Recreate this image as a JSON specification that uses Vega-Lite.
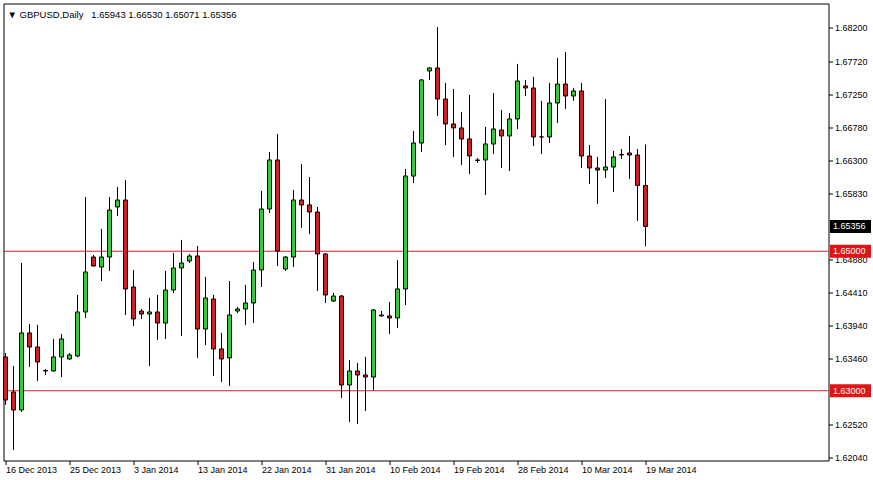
{
  "$schema": "https://vega.github.io/schema/vega-lite/v6.json",
  "width": 825,
  "height": 457,
  "autosize": {"type": "none"},
  "padding": {"left": 3.5, "top": 3.5, "right": 44.5, "bottom": 19.5},
  "background": "white",
  "title": {
    "text": "▼\u00a0GBPUSD,Daily\u00a0\u00a0\u00a01.65943 1.66530 1.65071 1.65356",
    "anchor": "start",
    "frame": "group",
    "offset": -13,
    "baseline": "alphabetic",
    "dx": 4,
    "dy": 11,
    "font": "Liberation Sans",
    "fontSize": 9.5,
    "fontWeight": "normal",
    "color": "black"
  },
  "datasets": {
    "candles": [
      {"i": 0, "o": 1.63484, "h": 1.63541, "l": 1.62796, "c": 1.62867},
      {"i": 1, "o": 1.62982, "h": 1.63355, "l": 1.62151, "c": 1.62724},
      {"i": 2, "o": 1.62724, "h": 1.64831, "l": 1.62695, "c": 1.63828},
      {"i": 3, "o": 1.63828, "h": 1.63957, "l": 1.63341, "c": 1.63627},
      {"i": 4, "o": 1.63627, "h": 1.63943, "l": 1.63140, "c": 1.63412},
      {"i": 5, "o": 1.63283, "h": 1.63312, "l": 1.63226, "c": 1.63290},
      {"i": 6, "o": 1.63283, "h": 1.63742, "l": 1.63276, "c": 1.63484},
      {"i": 7, "o": 1.63484, "h": 1.63814, "l": 1.63197, "c": 1.63742},
      {"i": 8, "o": 1.63455, "h": 1.63541, "l": 1.63441, "c": 1.63513},
      {"i": 9, "o": 1.63498, "h": 1.64373, "l": 1.63480, "c": 1.64129},
      {"i": 10, "o": 1.64129, "h": 1.65777, "l": 1.64043, "c": 1.64702},
      {"i": 11, "o": 1.64917, "h": 1.64946, "l": 1.64781, "c": 1.64788},
      {"i": 12, "o": 1.64774, "h": 1.65319, "l": 1.64573, "c": 1.64917},
      {"i": 13, "o": 1.64917, "h": 1.65777, "l": 1.64717, "c": 1.65591},
      {"i": 14, "o": 1.65634, "h": 1.65921, "l": 1.65505, "c": 1.65734},
      {"i": 15, "o": 1.65734, "h": 1.66021, "l": 1.64086, "c": 1.64459},
      {"i": 16, "o": 1.64487, "h": 1.64731, "l": 1.63928, "c": 1.64029},
      {"i": 17, "o": 1.64143, "h": 1.64172, "l": 1.64029, "c": 1.64100},
      {"i": 18, "o": 1.64100, "h": 1.64330, "l": 1.63355, "c": 1.64129},
      {"i": 19, "o": 1.64129, "h": 1.64373, "l": 1.63728, "c": 1.63971},
      {"i": 20, "o": 1.63971, "h": 1.64717, "l": 1.63742, "c": 1.64444},
      {"i": 21, "o": 1.64444, "h": 1.64975, "l": 1.64401, "c": 1.64760},
      {"i": 22, "o": 1.64760, "h": 1.65161, "l": 1.63785, "c": 1.64831},
      {"i": 23, "o": 1.64860, "h": 1.64960, "l": 1.64831, "c": 1.64932},
      {"i": 24, "o": 1.64932, "h": 1.65075, "l": 1.63470, "c": 1.63885},
      {"i": 25, "o": 1.63885, "h": 1.64631, "l": 1.63656, "c": 1.64330},
      {"i": 26, "o": 1.64315, "h": 1.64373, "l": 1.63212, "c": 1.63599},
      {"i": 27, "o": 1.63599, "h": 1.63828, "l": 1.63125, "c": 1.63455},
      {"i": 28, "o": 1.63470, "h": 1.64573, "l": 1.63068, "c": 1.64086},
      {"i": 29, "o": 1.64143, "h": 1.64201, "l": 1.64115, "c": 1.64172},
      {"i": 30, "o": 1.64172, "h": 1.64516, "l": 1.63943, "c": 1.64258},
      {"i": 31, "o": 1.64258, "h": 1.64846, "l": 1.63971, "c": 1.64731},
      {"i": 32, "o": 1.64731, "h": 1.65863, "l": 1.64487, "c": 1.65605},
      {"i": 33, "o": 1.65605, "h": 1.66422, "l": 1.65548, "c": 1.66308},
      {"i": 34, "o": 1.66308, "h": 1.66681, "l": 1.64788, "c": 1.65003},
      {"i": 35, "o": 1.64745, "h": 1.64932, "l": 1.64717, "c": 1.64917},
      {"i": 36, "o": 1.64917, "h": 1.65878, "l": 1.64774, "c": 1.65734},
      {"i": 37, "o": 1.65734, "h": 1.66250, "l": 1.65333, "c": 1.65663},
      {"i": 38, "o": 1.65663, "h": 1.66064, "l": 1.65247, "c": 1.65562},
      {"i": 39, "o": 1.65562, "h": 1.65634, "l": 1.64430, "c": 1.64960},
      {"i": 40, "o": 1.64960, "h": 1.64975, "l": 1.64258, "c": 1.64373},
      {"i": 41, "o": 1.64287, "h": 1.64401, "l": 1.64272, "c": 1.64358},
      {"i": 42, "o": 1.64358, "h": 1.64373, "l": 1.62896, "c": 1.63082},
      {"i": 43, "o": 1.63082, "h": 1.63441, "l": 1.62552, "c": 1.63283},
      {"i": 44, "o": 1.63283, "h": 1.63398, "l": 1.62523, "c": 1.63226},
      {"i": 45, "o": 1.63226, "h": 1.63484, "l": 1.62710, "c": 1.63197},
      {"i": 46, "o": 1.63197, "h": 1.64172, "l": 1.63011, "c": 1.64158},
      {"i": 47, "o": 1.64086, "h": 1.64143, "l": 1.64064, "c": 1.64072},
      {"i": 48, "o": 1.64072, "h": 1.64272, "l": 1.63814, "c": 1.64043},
      {"i": 49, "o": 1.64043, "h": 1.64874, "l": 1.63900, "c": 1.64459},
      {"i": 50, "o": 1.64459, "h": 1.66179, "l": 1.64229, "c": 1.66078},
      {"i": 51, "o": 1.66078, "h": 1.66724, "l": 1.65978, "c": 1.66551},
      {"i": 52, "o": 1.66551, "h": 1.67469, "l": 1.66422, "c": 1.67455},
      {"i": 53, "o": 1.67584, "h": 1.67634, "l": 1.67455, "c": 1.67627},
      {"i": 54, "o": 1.67627, "h": 1.68214, "l": 1.66939, "c": 1.67182},
      {"i": 55, "o": 1.67182, "h": 1.67412, "l": 1.66523, "c": 1.66824},
      {"i": 56, "o": 1.66824, "h": 1.67326, "l": 1.66351, "c": 1.66767},
      {"i": 57, "o": 1.66767, "h": 1.66996, "l": 1.66236, "c": 1.66609},
      {"i": 58, "o": 1.66609, "h": 1.67240, "l": 1.66107, "c": 1.66365},
      {"i": 59, "o": 1.66301, "h": 1.66336, "l": 1.66265, "c": 1.66308},
      {"i": 60, "o": 1.66308, "h": 1.66781, "l": 1.65806, "c": 1.66537},
      {"i": 61, "o": 1.66537, "h": 1.67268, "l": 1.66394, "c": 1.66752},
      {"i": 62, "o": 1.66738, "h": 1.67025, "l": 1.66193, "c": 1.66652},
      {"i": 63, "o": 1.66652, "h": 1.66982, "l": 1.66150, "c": 1.66896},
      {"i": 64, "o": 1.66896, "h": 1.67684, "l": 1.66752, "c": 1.67440},
      {"i": 65, "o": 1.67369, "h": 1.67455, "l": 1.67225, "c": 1.67340},
      {"i": 66, "o": 1.67340, "h": 1.67498, "l": 1.66508, "c": 1.66638},
      {"i": 67, "o": 1.66638, "h": 1.67154, "l": 1.66394, "c": 1.66638},
      {"i": 68, "o": 1.66638, "h": 1.67412, "l": 1.66551, "c": 1.67125},
      {"i": 69, "o": 1.67125, "h": 1.67770, "l": 1.66838, "c": 1.67397},
      {"i": 70, "o": 1.67397, "h": 1.67856, "l": 1.67039, "c": 1.67225},
      {"i": 71, "o": 1.67225, "h": 1.67340, "l": 1.67154, "c": 1.67297},
      {"i": 72, "o": 1.67297, "h": 1.67412, "l": 1.66193, "c": 1.66365},
      {"i": 73, "o": 1.66365, "h": 1.66523, "l": 1.65964, "c": 1.66193},
      {"i": 74, "o": 1.66193, "h": 1.66351, "l": 1.65677, "c": 1.66164},
      {"i": 75, "o": 1.66164, "h": 1.67182, "l": 1.66050, "c": 1.66207},
      {"i": 76, "o": 1.66207, "h": 1.66437, "l": 1.65849, "c": 1.66351},
      {"i": 77, "o": 1.66380, "h": 1.66465, "l": 1.66322, "c": 1.66385},
      {"i": 78, "o": 1.66408, "h": 1.66652, "l": 1.66035, "c": 1.66379},
      {"i": 79, "o": 1.66379, "h": 1.66465, "l": 1.65433, "c": 1.65943},
      {"i": 80, "o": 1.65943, "h": 1.66530, "l": 1.65071, "c": 1.65356}
    ],
    "levels": [{"p": 1.65}, {"p": 1.63}],
    "tags": [
      {"p": 1.65356, "t": "1.65356", "k": "cur"},
      {"p": 1.65, "t": "1.65000", "k": "lvl"},
      {"p": 1.63, "t": "1.63000", "k": "lvl"}
    ]
  },
  "layer": [
    {
      "data": {"name": "levels"},
      "mark": {"type": "rule", "color": "#cc1e2d", "strokeWidth": 1},
      "encoding": {
        "y": {"field": "p", "type": "quantitative", "title": null}
      }
    },
    {
      "data": {"name": "candles"},
      "mark": {"type": "rule", "color": "black", "strokeWidth": 1},
      "encoding": {
        "x": {
          "field": "i",
          "type": "quantitative",
          "title": null,
          "scale": {"domain": [-0.25, 102.875], "nice": false, "zero": false, "padding": 0},
          "axis": {
            "orient": "bottom",
            "values": [0, 8, 16, 24, 32, 40, 48, 56, 64, 72, 80],
            "labelExpr": "['16 Dec 2013','25 Dec 2013','3 Jan 2014','13 Jan 2014','22 Jan 2014','31 Jan 2014','10 Feb 2014','19 Feb 2014','28 Feb 2014','10 Mar 2014','19 Mar 2014'][round(datum.value/8)]"
          }
        },
        "y": {
          "field": "l",
          "type": "quantitative",
          "title": null,
          "scale": {"domain": [1.62, 1.68551], "nice": false, "zero": false, "padding": 0},
          "axis": {
            "orient": "right",
            "values": [1.6204, 1.6252, 1.6346, 1.6394, 1.6441, 1.6488, 1.6583, 1.663, 1.6678, 1.6725, 1.6772, 1.682],
            "format": ".5f"
          }
        },
        "y2": {"field": "h"}
      }
    },
    {
      "data": {"name": "candles"},
      "mark": {"type": "bar", "width": 4, "stroke": "black", "strokeWidth": 1},
      "encoding": {
        "x": {"field": "i", "type": "quantitative", "title": null},
        "y": {"field": "o", "type": "quantitative", "title": null},
        "y2": {"field": "c"},
        "fill": {"condition": {"test": "datum.c > datum.o", "value": "#32cd32"}, "value": "#cc2222"}
      }
    },
    {
      "data": {"name": "tags"},
      "mark": {"type": "bar", "orient": "horizontal", "height": 13},
      "encoding": {
        "x": {"datum": 103.06, "type": "quantitative", "title": null},
        "x2": {"datum": 108.19},
        "y": {"field": "p", "type": "quantitative", "title": null},
        "color": {"condition": {"test": "datum.k == 'cur'", "value": "black"}, "value": "#e01414"}
      }
    },
    {
      "data": {"name": "tags"},
      "mark": {"type": "text", "align": "left", "baseline": "middle", "color": "white", "font": "Liberation Sans", "fontSize": 9},
      "encoding": {
        "x": {"datum": 103.44, "type": "quantitative", "title": null},
        "y": {"field": "p", "type": "quantitative", "title": null},
        "text": {"field": "t"}
      }
    }
  ],
  "config": {
    "view": {"stroke": "black", "strokeWidth": 1},
    "font": "Liberation Sans",
    "scale": {"continuousPadding": 0},
    "axis": {
      "grid": false,
      "domain": false,
      "tickSize": 4,
      "tickColor": "black",
      "labelFont": "Liberation Sans",
      "labelFontSize": 9,
      "labelColor": "black",
      "labelOverlap": false,
      "labelBound": false,
      "labelFlush": false
    },
    "axisX": {
      "labelAlign": "left",
      "labelDx": 1,
      "labelBaseline": "top",
      "labelPadding": 1,
      "labelAngle": 0
    },
    "axisY": {
      "labelAlign": "left",
      "labelBaseline": "middle",
      "labelPadding": 2
    }
  }
}
